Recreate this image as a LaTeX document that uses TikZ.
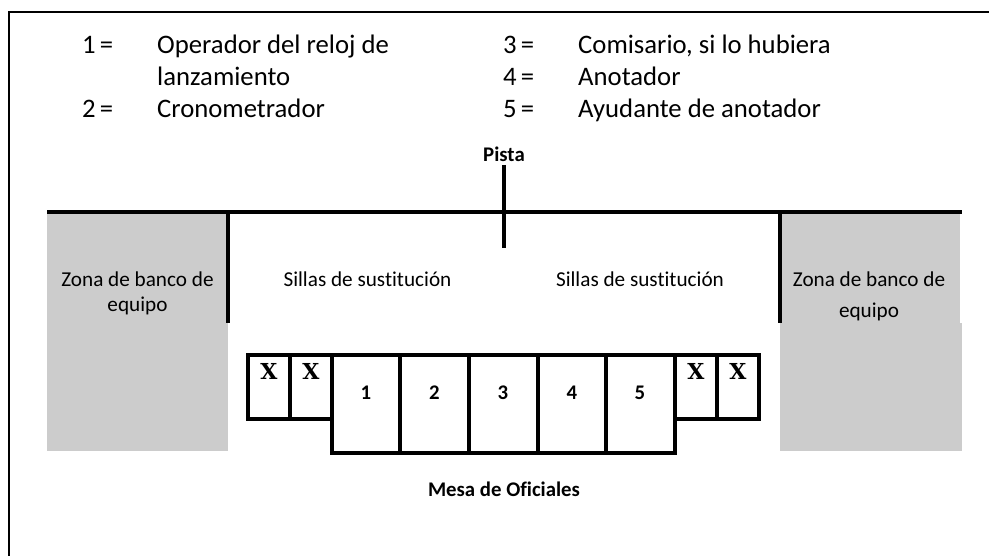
\documentclass[tikz,border=0pt]{standalone}
\usepackage{fontspec}
\setmainfont[Ligatures=NoCommon]{Carlito}
\newfontfamily\xfont{DejaVu Serif}
\definecolor{zona}{RGB}{204,204,204}
\tikzset{
  legend/.style={anchor=base west,inner sep=0pt,font=\fontsize{26.7}{30}\selectfont},
  small/.style={anchor=base,inner sep=0pt,font=\fontsize{21.2}{25}\selectfont},
  boldtxt/.style={anchor=base,inner sep=0pt,font=\fontsize{20.8}{25}\selectfont\bfseries},
  xmark/.style={anchor=base,inner sep=0pt,font=\fontsize{22}{26}\xfont\bfseries},
  frameline/.style={line width=2pt,black},
  wall/.style={line width=4pt,black},
  tableline/.style={line width=3.5pt,black,line join=miter}
}
\begin{document}
\begin{tikzpicture}[x=1pt,y=-1pt]
\useasboundingbox (0,0) rectangle (989,556);
\fill[white] (0,0) rectangle (989,556);
% frame
\draw[frameline] (989,12) -- (9,12) -- (9,556);
% grey zones
\fill[zona] (47,212) rectangle (228,451);
\fill[zona] (780,212) rectangle (960,323);
\fill[zona] (780,323) rectangle (962,451);
% walls
\draw[wall] (47,212) -- (962,212);
\draw[wall] (228,212) -- (228,323);
\draw[wall] (780,212) -- (780,323);
\draw[wall] (504,165) -- (504,248);
% table
\draw[tableline] (248,355) -- (759,355) -- (759,419) -- (675,419) -- (675,453) -- (332,453) -- (332,419) -- (248,419) -- cycle;
\foreach \px/\ya/\yb in {290/355/419,332/355/453,400/355/453,469/355/453,538/355/453,606/355/453,675/355/453,717/355/419}
  \draw[tableline] (\px,\ya) -- (\px,\yb);
% legend
\node[legend] (n1) at (82,53.5) {1\kern-2pt\ =};
\node[legend] (t1) at (157,53.5) {Operador del reloj de};
\node[legend] (t1b) at (157,86) {lanzamiento};
\node[legend] (n2) at (82,118) {2\kern-2pt\ =};
\node[legend] (t2) at (157,118) {Cronometrador};
\node[legend] (n3) at (503,53.5) {3\kern-2pt\ =};
\node[legend] (t3) at (578,53.5) {Comisario, si lo hubiera};
\node[legend] (n4) at (503,86) {4\kern-2pt\ =};
\node[legend] (t4) at (578,86) {Anotador};
\node[legend] (n5) at (503,118) {5\kern-2pt\ =};
\node[legend] (t5) at (578,118) {Ayudante de anotador};
% labels
\node[boldtxt] (pista) at (504,162) {Pista};
\node[small] (za) at (137.5,287) {Zona de banco de};
\node[small] (zb) at (137.5,311.5) {equipo};
\node[small] (zc) at (869,287) {Zona de banco de};
\node[small] (zd) at (869,318) {equipo};
\node[small] (sa) at (367.5,287) {Sillas de sustitución};
\node[small] (sb) at (640,287) {Sillas de sustitución};
\node[xmark] (x1) at (269,380) {X};
\node[xmark] (x2) at (311,380) {X};
\node[xmark] (x3) at (696,380) {X};
\node[xmark] (x4) at (738,380) {X};
\node[boldtxt] (c1) at (366,399.5) {1};
\node[boldtxt] (c2) at (434.5,399.5) {2};
\node[boldtxt] (c3) at (503,399.5) {3};
\node[boldtxt] (c4) at (572,399.5) {4};
\node[boldtxt] (c5) at (640,399.5) {5};
\node[boldtxt] (mesa) at (504,496) {Mesa de Oficiales};
\end{tikzpicture}
\end{document}
